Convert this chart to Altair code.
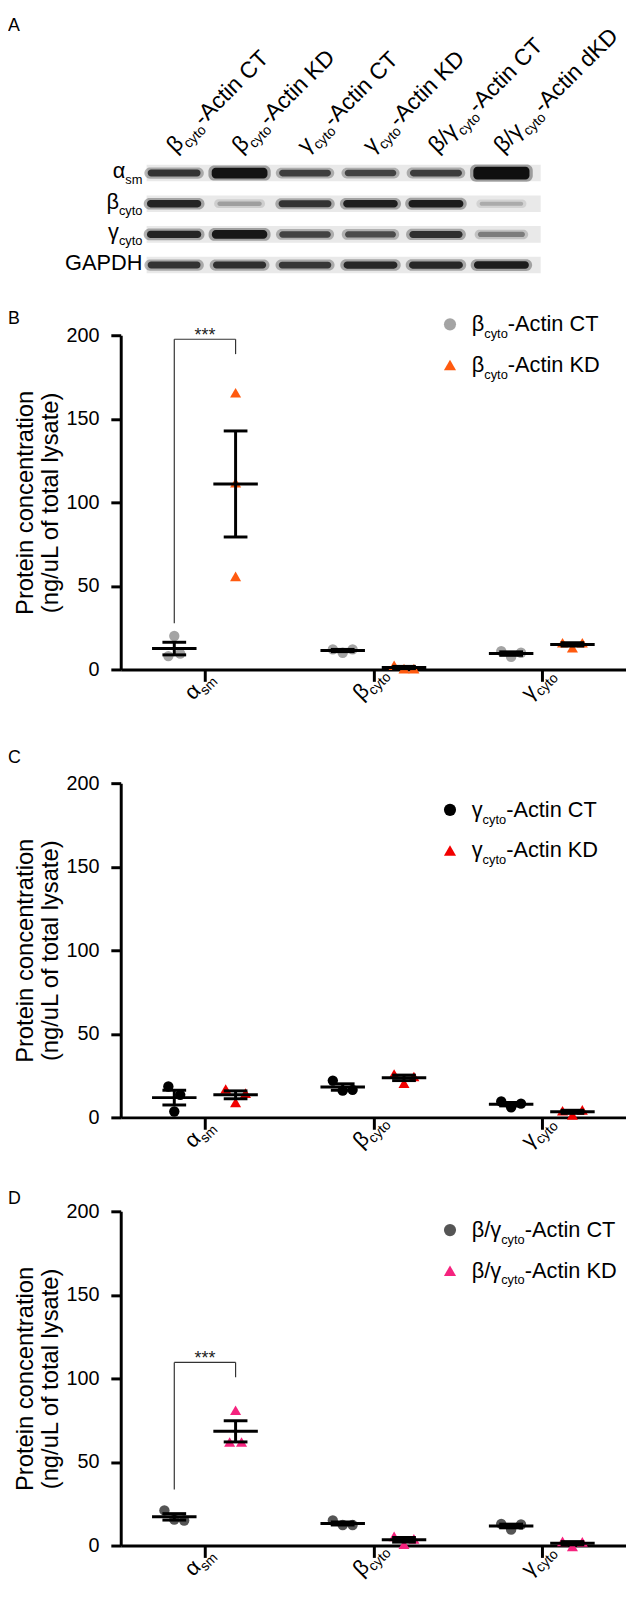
import altair as alt
import pandas as pd

FONT = "Liberation Sans"

# ------------------------------------------------------------------ data
GENE_MAIN = ["α", "β", "γ"]
GENE_SUB = ["sm", "cyto", "cyto"]

# Panel A (western blot): lanes, rows and band darkness (0 = none, 1 = black)
LANE_MAIN = ["β", "β", "γ", "γ", "β/γ", "β/γ"]
LANE_TAIL = ["-Actin CT", "-Actin KD", "-Actin CT", "-Actin KD", "-Actin CT", "-Actin dKD"]
BLOT_MAIN = ["α", "β", "γ", "GAPDH"]
BLOT_SUB = ["sm", "cyto", "cyto", ""]
BAND_ALPHA_SM = [0.80, 0.97, 0.74, 0.72, 0.75, 0.99]
BAND_BETA = [0.88, 0.30, 0.80, 0.90, 0.92, 0.25]
BAND_GAMMA = [0.88, 0.95, 0.72, 0.68, 0.82, 0.45]
BAND_GAPDH = [0.80, 0.82, 0.78, 0.86, 0.86, 0.92]

# Panel B: beta-cyto actin knock-down
B_LEGEND_MAIN = ["β", "β"]
B_LEGEND_TAIL = ["-Actin CT", "-Actin KD"]
B_CT = [[8.0, 20.0, 9.5], [12.0, 10.0, 12.0], [11.0, 7.5, 10.0]]
B_KD = [[165.6, 111.7, 55.7], [2.5, 0.5, 0.5], [16.0, 13.0, 16.0]]
B_BRACKET = [197.6, 27.7, 188.7]

# Panel C: gamma-cyto actin knock-down
C_LEGEND_MAIN = ["γ", "γ"]
C_LEGEND_TAIL = ["-Actin CT", "-Actin KD"]
C_CT = [[18.5, 13.5, 3.5], [22.0, 16.0, 16.5], [9.5, 6.0, 8.2]]
C_KD = [[17.0, 9.0, 14.5], [26.0, 20.5, 24.5], [4.0, 1.5, 4.5]]

# Panel D: double knock-down
D_LEGEND_MAIN = ["β/γ", "β/γ"]
D_LEGEND_TAIL = ["-Actin CT", "-Actin KD"]
D_CT = [[21.0, 15.5, 15.0], [15.0, 12.3, 12.3], [13.0, 9.5, 12.6]]
D_KD = [[81.0, 62.0, 62.0], [5.5, 0.8, 4.0], [2.5, -0.5, 2.2]]
D_BRACKET = [109.6, 33.6, 100.7]

# ------------------------------------------------------------------ layout constants
W = 511
SPAN = 338
PXU = W / 6.0
GROUP_OFF = 31 / PXU
MEAN_HALF = 22.5 / PXU
CAP_HALF = 12 / PXU
LEFT_EDGE = -114
R45 = 0.7071

AW = {" ": 278, "-": 333, "/": 278, "*": 389, "A": 667, "C": 722, "D": 722, "G": 778,
      "H": 722, "K": 667, "P": 667, "T": 611, "a": 556, "c": 500, "d": 556, "i": 222,
      "m": 833, "n": 556, "o": 556, "s": 500, "t": 278, "y": 500,
      "α": 578, "β": 575, "γ": 500}


def tw(s, size):
    return sum(AW.get(ch, 556) for ch in s) / 1000.0 * size


def segments(parts, main_size, sub_size, start=0.0, **extra):
    rows = []
    x = start
    for text, kind in parts:
        if not text:
            continue
        size = main_size if kind == "main" else sub_size
        r = {"text": text, "kind": kind, "dx": x}
        r.update(extra)
        rows.append(r)
        x += tw(text, size)
    return rows


def seg_layers(rows, x_enc, y_enc, main_size, sub_size, main_dy, sub_dy, angle=None, color="black"):
    df = pd.DataFrame(rows)
    out = []
    for kind, size, dy in [("main", main_size, main_dy), ("sub", sub_size, main_dy + sub_dy)]:
        d = df[df["kind"] == kind]
        if len(d) == 0:
            continue
        props = dict(align="left", baseline="alphabetic", font=FONT, fontSize=size,
                     dx=alt.ExprRef(expr="datum.dx"), dy=dy, color=color)
        if angle is not None:
            props["angle"] = angle
        out.append(alt.Chart(d).mark_text(**props).encode(x=x_enc, y=y_enc, text="text:N"))
    return out


def spread(values):
    """horizontal offsets (px) for points that overlap vertically"""
    thr = 6.5
    order = sorted(range(len(values)), key=lambda i: values[i])
    clusters = [[order[0]]]
    for i in order[1:]:
        if values[i] - values[clusters[-1][-1]] < thr:
            clusters[-1].append(i)
        else:
            clusters.append([i])
    off = [0.0] * len(values)
    for c in clusters:
        c = sorted(c)
        n = len(c)
        step = 10.0 if n >= 3 else 12.0
        for k, i in enumerate(c):
            off[i] = (k - (n - 1) / 2.0) * step
    return off


# ------------------------------------------------------------------ panel A
def panel_a(h):
    xs = alt.Scale(domain=[0, 5], range=[54, 385], nice=False, zero=False)
    ys = alt.Scale(domain=[0, 3], range=[157, 250], nice=False, zero=False)
    strips = pd.DataFrame({"row": list(range(4))})
    strips["x"] = -0.42
    strips["x2"] = 5.6
    strips["y"] = strips["row"] - 0.27
    strips["y2"] = strips["row"] + 0.27
    rows = []
    for r, vals in enumerate([BAND_ALPHA_SM, BAND_BETA, BAND_GAMMA, BAND_GAPDH]):
        for l, d in enumerate(vals):
            t = 3 + 5 * d + 6 * max(0.0, d - 0.94) / 0.06
            hh = t / 2 / 31.0
            hw = 0.30 + 0.13 * d
            rows.append(dict(row=r, lane=l, dark=d, x=l - hw, x2=l + hw,
                             y=r - hh, y2=r + hh, hx=l - hw - 0.05, hx2=l + hw + 0.05,
                             hy=r - hh - 0.07, hy2=r + hh + 0.07))
    bands = pd.DataFrame(rows)
    X = lambda f: alt.X(f, type="quantitative", scale=xs, axis=None)
    Y = lambda f: alt.Y(f, type="quantitative", scale=ys, axis=None)
    cscale = alt.Scale(domain=[0, 1], range=["#e8e8e8", "#0c0c0c"])
    strip = alt.Chart(strips).mark_rect(color="#e9e9e9").encode(
        x=X("x"), x2="x2", y=Y("y"), y2="y2")
    halo = alt.Chart(bands).mark_rect(cornerRadius=6, opacity=0.35).encode(
        x=X("hx"), x2="hx2", y=Y("hy"), y2="hy2",
        color=alt.Color("dark:Q", scale=cscale, legend=None))
    band = alt.Chart(bands).mark_rect(cornerRadius=4).encode(
        x=X("x"), x2="x2", y=Y("y"), y2="y2",
        color=alt.Color("dark:Q", scale=cscale, legend=None))
    layers = [strip, halo, band]
    # lane labels (rotated)
    lrows = []
    for l, (m, t) in enumerate(zip(LANE_MAIN, LANE_TAIL)):
        lrows += segments([(m, "main"), ("cyto", "sub"), (t, "main")], 23, 14, start=2, lane=l)
    layers += seg_layers(lrows, X("lane"), alt.value(139), 23, 14, 0, 6, angle=315)
    # row labels
    rrows = []
    for r, (m, s) in enumerate(zip(BLOT_MAIN, BLOT_SUB)):
        total = tw(m, 22) + tw(s, 13)
        rrows += segments([(m, "main"), (s, "sub")], 22, 13, start=-total, row=r)
    layers += seg_layers(rrows, alt.value(22), Y("row"), 22, 13, 5, 6)
    letter = alt.Chart(pd.DataFrame({"t": ["A"]})).mark_text(
        align="left", baseline="top", font=FONT, fontSize=18, color="black"
    ).encode(x=alt.value(LEFT_EDGE), y=alt.value(-1), text="t:N")
    layers.append(letter)
    return alt.layer(*layers).properties(width=W, height=h)


# ------------------------------------------------------------------ scatter panels
def scatter_panel(ct, kd, legend_main, legend_tail, colors, h, leg_dy, letter, letter_dy, bracket=None):
    top = h - SPAN
    ys = alt.Scale(domain=[0, 200], range=[h, top], nice=False, zero=False)
    xs = alt.Scale(domain=[0, 6], nice=False, zero=False)
    yaxis = alt.Axis(values=[0, 50, 100, 150, 200], title=["Protein concentration", "(ng/uL of total lysate)"],
                     tickSize=10, tickWidth=3, domainWidth=3, domainColor="black", tickColor="black",
                     labelFont=FONT, labelFontSize=20, labelColor="black", labelPadding=12,
                     titleFont=FONT, titleFontSize=24, titleFontWeight="normal", titleColor="black",
                     titlePadding=4, titleLineHeight=25, grid=False)
    xaxis = alt.Axis(values=[1, 3, 5], labels=False, title=None, ticks=True, tickSize=12, tickWidth=3,
                     domainWidth=3, domainColor="black", tickColor="black", grid=False)
    X = lambda f: alt.X(f, type="quantitative", scale=xs, axis=xaxis)
    Y = lambda f: alt.Y(f, type="quantitative", scale=ys, axis=yaxis)

    pts, summ = [], []
    for s, (series, sign) in enumerate([(ct, -1), (kd, 1)]):
        for g, vals in enumerate(series):
            centre = 2 * g + 1 + sign * GROUP_OFF
            offs = spread(vals)
            for v, o in zip(vals, offs):
                pts.append(dict(series=s, x=centre + o / PXU, v=v))
            n = len(vals)
            m = sum(vals) / n
            sd = (sum((v - m) ** 2 for v in vals) / (n - 1)) ** 0.5
            sem = sd / n ** 0.5
            summ.append(dict(series=s, xc=centre, xm1=centre - MEAN_HALF, xm2=centre + MEAN_HALF,
                             xc1=centre - CAP_HALF, xc2=centre + CAP_HALF,
                             mean=m, hi=m + sem, lo=m - sem))
    pts = pd.DataFrame(pts)
    summ = pd.DataFrame(summ)
    layers = []
    if bracket is not None:
        btop, bl, br = bracket
        xl = 1 - GROUP_OFF
        xr = 1 + GROUP_OFF
        br_df = pd.DataFrame([
            dict(x=xl, x2=xr, y=btop, y2=btop),
            dict(x=xl, x2=xl, y=bl, y2=btop),
            dict(x=xr, x2=xr, y=br, y2=btop),
        ])
        layers.append(alt.Chart(br_df).mark_rule(color="#333333", strokeWidth=1.2).encode(
            x=X("x"), x2="x2", y=Y("y"), y2="y2"))
        layers.append(alt.Chart(pd.DataFrame({"x": [1.0], "y": [btop], "t": ["***"]})).mark_text(
            align="center", baseline="alphabetic", font=FONT, fontSize=18, dy=2, color="#222222"
        ).encode(x=X("x"), y=Y("y"), text="t:N"))
    shapes = ["circle", "triangle-up"]
    sizes = [110, 125]
    for s in range(2):
        d = pts[pts["series"] == s]
        layers.append(alt.Chart(d).mark_point(
            filled=True, shape=shapes[s], size=sizes[s], color=colors[s], opacity=1, strokeWidth=0
        ).encode(x=X("x"), y=Y("v")))
    layers.append(alt.Chart(summ).mark_rule(color="black", strokeWidth=3).encode(
        x=X("xm1"), x2="xm2", y=Y("mean")))
    layers.append(alt.Chart(summ).mark_rule(color="black", strokeWidth=3).encode(
        x=X("xc"), y=Y("lo"), y2="hi"))
    layers.append(alt.Chart(summ).mark_rule(color="black", strokeWidth=3).encode(
        x=X("xc1"), x2="xc2", y=Y("hi")))
    layers.append(alt.Chart(summ).mark_rule(color="black", strokeWidth=3).encode(
        x=X("xc1"), x2="xc2", y=Y("lo")))
    # legend
    for i in range(2):
        yrow = top + leg_dy + 41 * i
        layers.append(alt.Chart(pd.DataFrame({"k": [0]})).mark_point(
            filled=True, shape=shapes[i], size=150, color=colors[i], opacity=1, strokeWidth=0
        ).encode(x=alt.value(333), y=alt.value(yrow)))
        rows = segments([(legend_main[i], "main"), ("cyto", "sub"), (legend_tail[i], "main")], 22, 13)
        layers += seg_layers(rows, alt.value(355), alt.value(yrow), 22, 13, 7, 7)
    # x tick labels rotated 45 deg: each piece placed at its own anchor (no dx/dy)
    u0, v0 = -31.1, 14.1
    for g in range(3):
        tick = (2 * g + 1) * PXU
        wm = tw(GENE_MAIN[g], 22)
        mx, my = tick + R45 * (u0 + v0), h + R45 * (v0 - u0)
        sx, sy = tick + R45 * (u0 + wm + v0 + 5), h + R45 * (v0 + 5 - u0 - wm)
        layers.append(alt.Chart(pd.DataFrame({"t": [GENE_MAIN[g]]})).mark_text(
            align="left", baseline="alphabetic", font=FONT, fontSize=22, angle=315, color="black"
        ).encode(x=alt.value(mx), y=alt.value(my), text="t:N"))
        layers.append(alt.Chart(pd.DataFrame({"t": [GENE_SUB[g]]})).mark_text(
            align="left", baseline="alphabetic", font=FONT, fontSize=14, angle=315, color="black"
        ).encode(x=alt.value(sx), y=alt.value(sy), text="t:N"))
    layers.append(alt.Chart(pd.DataFrame({"t": [letter]})).mark_text(
        align="left", baseline="alphabetic", font=FONT, fontSize=18, color="black"
    ).encode(x=alt.value(LEFT_EDGE), y=alt.value(top + letter_dy), text="t:N"))
    return alt.layer(*layers).properties(width=W, height=h)


SP = 40
HA, HB, HC, HD = 281, 338, 413, 393

pa = panel_a(HA)
pb = scatter_panel(B_CT, B_KD, B_LEGEND_MAIN, B_LEGEND_TAIL, ["#A4A4A4", "#FF5A0F"], HB, -11, "B", -11, B_BRACKET)
pc = scatter_panel(C_CT, C_KD, C_LEGEND_MAIN, C_LEGEND_TAIL, ["#000000", "#F20000"], HC, 27, "C", -20)
pd_ = scatter_panel(D_CT, D_KD, D_LEGEND_MAIN, D_LEGEND_TAIL, ["#555555", "#F5237E"], HD, 19, "D", -7, D_BRACKET)

chart = alt.vconcat(pa, pb, pc, pd_, spacing=SP, bounds="flush", padding=0).configure_view(
    stroke=None).configure_axis(grid=False)

chart.save("out.html", embed_options={"renderer": "svg", "actions": False})
